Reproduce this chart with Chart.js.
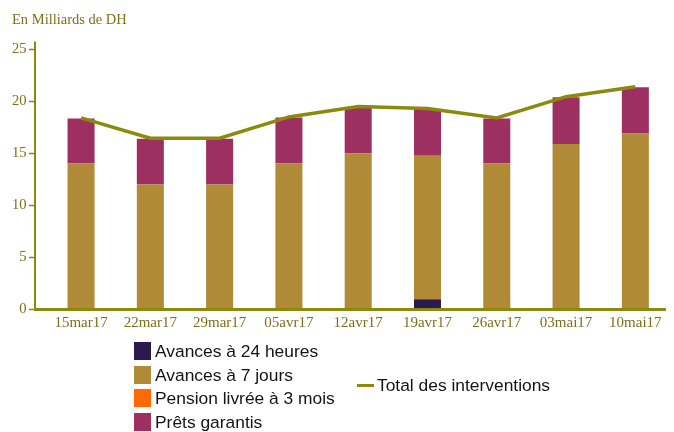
<!DOCTYPE html>
<html>
<head>
<meta charset="utf-8">
<script src="https://cdn.jsdelivr.net/npm/chart.js@4/dist/chart.umd.min.js"></script>
<style>
  html, body { margin: 0; padding: 0; background: #fff; }
  #wrap { position: relative; width: 674px; height: 432px; overflow: hidden; }
  #c { position: absolute; left: 0; top: 0; }
  .leg { position: absolute; font-family: "Liberation Sans", Arial, sans-serif; font-size: 17.4px; color: #141414; white-space: nowrap; }
  .row { position: absolute; left: 0; height: 23px; line-height: 20px; }
  .box { position: absolute; left: 0; top: 1px; width: 17px; height: 18px; }
  .txt { position: absolute; left: 21px; top: 0; }
</style>
</head>
<body>
<div id="wrap">
  <canvas id="c" width="674" height="432"></canvas>
  <div class="leg" id="legBars" style="left:134px; top:341px;"></div>
  <div class="leg" id="legLine" style="left:357px; top:375px;"></div>
</div>
<script>
const categories = ['15mar17','22mar17','29mar17','05avr17','12avr17','19avr17','26avr17','03mai17','10mai17'];
const avances24h = [0, 0, 0, 0, 0, 0.95, 0, 0, 0];
const avances7j  = [14.0, 12.0, 12.0, 14.0, 15.0, 13.8, 14.0, 15.9, 16.9];
const pension3m  = [0, 0, 0, 0, 0, 0, 0, 0, 0];
const pretsGarantis = [4.35, 4.4, 4.4, 4.45, 4.45, 4.5, 4.35, 4.5, 4.45];
const totalInterventions = [18.4, 16.45, 16.45, 18.5, 19.5, 19.3, 18.4, 20.45, 21.4];
const yTicks = [0, 5, 10, 15, 20, 25];

const seriesNames = ['Avances à 24 heures', 'Avances à 7 jours', 'Pension livrée à 3 mois', 'Prêts garantis'];
const lineName = 'Total des interventions';
const colors = ['#2b1a50', '#b08a36', '#ff6a00', '#9e3061'];
const olive = '#8a8a0c';
const tickColor = '#7d6f1c';

const axisPlugin = {
  id: 'customAxes',
  afterDraw(chart) {
    const ctx = chart.ctx;
    const y = chart.scales.y;
    const area = chart.chartArea;
    const x0 = 35;
    const y0 = y.getPixelForValue(0);
    const yTop = y.getPixelForValue(25);
    ctx.save();
    ctx.strokeStyle = olive;
    ctx.lineWidth = 2;
    ctx.beginPath();
    ctx.moveTo(x0, yTop - 8);
    ctx.lineTo(x0, y0);
    ctx.stroke();
    ctx.lineWidth = 1.5;
    yTicks.forEach(v => {
      const py = Math.round(y.getPixelForValue(v)) + 0.5;
      ctx.beginPath();
      ctx.moveTo(x0 - 6, py);
      ctx.lineTo(x0, py);
      ctx.stroke();
    });
    ctx.lineWidth = 3;
    ctx.beginPath();
    ctx.moveTo(x0 - 1, y0 + 0.5);
    ctx.lineTo(area.right - 4, y0 + 0.5);
    ctx.stroke();
    ctx.restore();
  }
};

const barSets = [avances24h, avances7j, pension3m, pretsGarantis].map((d, i) => ({
  type: 'bar',
  label: seriesNames[i],
  data: d,
  backgroundColor: colors[i],
  borderWidth: 0,
  stack: 'bars',
  order: 2,
  barPercentage: 0.39,
  categoryPercentage: 1.0
}));

new Chart(document.getElementById('c'), {
  data: {
    labels: categories,
    datasets: [
      ...barSets,
      {
        type: 'line',
        label: lineName,
        data: totalInterventions,
        borderColor: olive,
        backgroundColor: olive,
        borderWidth: 3.5,
        pointRadius: 0,
        tension: 0,
        stack: 'total',
        order: 0
      }
    ]
  },
  options: {
    responsive: false,
    animation: false,
    layout: { padding: { left: 12, right: 4, top: 0, bottom: 0 } },
    plugins: {
      legend: { display: false },
      tooltip: { enabled: false },
      title: {
        display: true,
        text: 'En Milliards de DH',
        align: 'start',
        color: tickColor,
        font: { family: '"Liberation Serif", "Times New Roman", serif', size: 14.5, weight: 'normal' },
        padding: { top: 11, bottom: 21 }
      }
    },
    scales: {
      x: {
        stacked: true,
        offset: true,
        grid: { display: false, drawTicks: false },
        border: { display: false },
        ticks: {
          color: tickColor,
          padding: 5,
          maxRotation: 0,
          autoSkip: false,
          font: { family: '"Liberation Serif", "Times New Roman", serif', size: 15 }
        },
        afterFit(scale) { scale.height = 123; }
      },
      y: {
        stacked: true,
        min: 0,
        max: 25,
        afterBuildTicks(scale) { scale.ticks = yTicks.map(v => ({ value: v })); },
        grid: { display: false, drawTicks: false },
        border: { display: false },
        ticks: {
          color: tickColor,
          padding: 20,
          font: { family: '"Liberation Serif", "Times New Roman", serif', size: 14.5 }
        },
        afterFit(scale) { scale.width = 34.4; }
      }
    }
  },
  plugins: [axisPlugin]
});

const legBars = document.getElementById('legBars');
seriesNames.forEach((name, i) => {
  const row = document.createElement('div');
  row.className = 'row';
  row.style.top = (i * 23.5) + 'px';
  row.innerHTML = '<span class="box" style="background:' + colors[i] + '"></span><span class="txt">' + name + '</span>';
  legBars.appendChild(row);
});
const legLine = document.getElementById('legLine');
legLine.innerHTML = '<span style="position:absolute;left:0;top:9px;width:17px;height:3px;background:' + olive + '"></span><span style="position:absolute;left:20px;top:0;line-height:20px;">' + lineName + '</span>';
</script>
</body>
</html>
